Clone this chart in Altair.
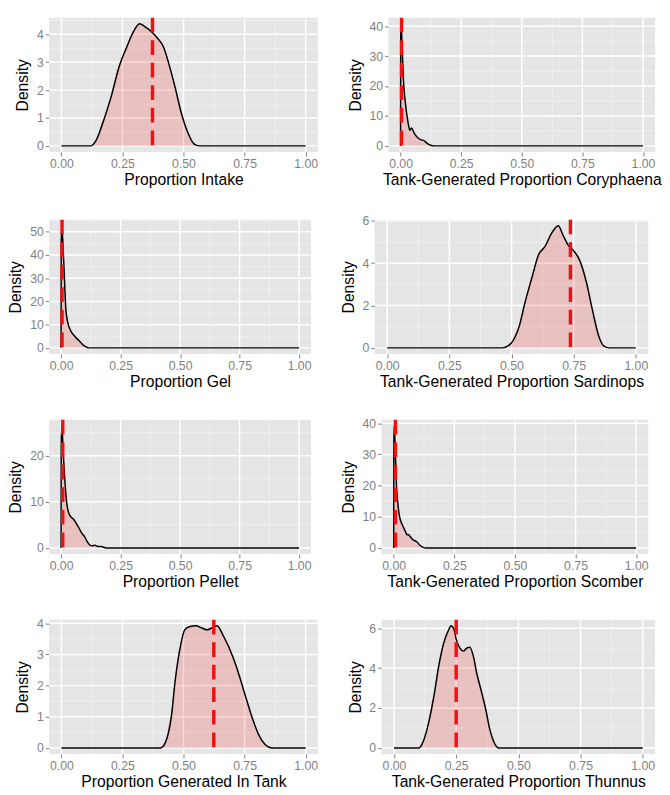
import altair as alt
import pandas as pd

FONT = "Liberation Sans"
BG = "#E5E5E5"

# ---------------- data ----------------
titles = [
    "Proportion Intake",
    "Tank-Generated Proportion Coryphaena",
    "Proportion Gel",
    "Tank-Generated Proportion Sardinops",
    "Proportion Pellet",
    "Tank-Generated Proportion Scomber",
    "Proportion Generated In Tank",
    "Tank-Generated Proportion Thunnus",
]

intake_x = [0, 0.12, 0.141, 0.174, 0.20, 0.24, 0.267, 0.293, 0.32, 0.34, 0.373, 0.392, 0.419, 0.44, 0.465, 0.491, 0.518, 0.544, 0.564, 1.0]
intake_y = [0, 0, 0.18, 0.94, 1.65, 2.94, 3.53, 4.06, 4.38, 4.29, 4.06, 3.88, 3.53, 2.94, 2.12, 1.18, 0.47, 0.06, 0, 0]

cory_x = [0, 0.0005, 0.002, 0.0066, 0.012, 0.020, 0.031, 0.038, 0.045, 0.052, 0.058, 0.071, 0.085, 0.095, 0.111, 0.124, 0.138, 1.0]
cory_y = [0, 36, 40.8, 32.9, 21.9, 14.2, 7.8, 5.2, 6.0, 5.0, 4.0, 2.7, 2.0, 1.85, 0.77, 0.2, 0, 0]

gel_x = [0, 0.0005, 0.003, 0.009, 0.015, 0.020, 0.028, 0.040, 0.061, 0.081, 0.094, 0.108, 0.115, 1.0]
gel_y = [0, 45, 52.6, 42, 27.9, 16.6, 11, 7.5, 4.6, 2.5, 1.1, 0.3, 0, 0]

sard_x = [0, 0.464, 0.497, 0.53, 0.556, 0.582, 0.609, 0.635, 0.661, 0.688, 0.707, 0.727, 0.747, 0.773, 0.80, 0.826, 0.852, 0.872, 0.892, 1.0]
sard_y = [0, 0, 0.2, 0.98, 2.22, 3.31, 4.4, 4.79, 5.41, 5.77, 5.33, 4.87, 4.63, 4.17, 3.16, 1.76, 0.51, 0.08, 0, 0]

pellet_x = [0, 0.0005, 0.003, 0.009, 0.017, 0.024, 0.036, 0.054, 0.072, 0.088, 0.098, 0.108, 0.121, 0.132, 0.142, 0.155, 0.169, 0.189, 1.0]
pellet_y = [0, 22, 26.5, 20.8, 13.8, 9.6, 7.1, 6.1, 4.6, 3.1, 2.5, 1.5, 0.6, 0.45, 0.6, 0.3, 0.3, 0, 0]

scomb_x = [0, 0.0005, 0.002, 0.0066, 0.011, 0.017, 0.024, 0.038, 0.051, 0.055, 0.060, 0.066, 0.078, 0.096, 0.108, 0.124, 0.132, 1.0]
scomb_y = [0, 33, 39.2, 31.3, 20.7, 14.3, 10.1, 7.0, 4.8, 4.2, 4.3, 3.8, 2.7, 1.9, 0.85, 0.1, 0, 0]

tank_x = [0, 0.406, 0.425, 0.451, 0.465, 0.485, 0.505, 0.524, 0.55, 0.575, 0.597, 0.615, 0.637, 0.663, 0.703, 0.729, 0.756, 0.782, 0.808, 0.835, 0.861, 1.0]
tank_y = [0, 0, 0.16, 1.05, 2.1, 3.16, 3.79, 3.89, 3.92, 3.85, 3.79, 3.85, 3.92, 3.6, 2.9, 2.3, 1.6, 0.95, 0.42, 0.1, 0, 0]

thun_x = [0, 0.101, 0.115, 0.134, 0.161, 0.18, 0.20, 0.22, 0.229, 0.241, 0.25, 0.265, 0.279, 0.292, 0.305, 0.319, 0.332, 0.352, 0.371, 0.384, 0.398, 0.411, 0.42, 1.0]
thun_y = [0, 0, 0.25, 0.99, 2.63, 4.11, 5.26, 5.92, 6.12, 5.95, 5.45, 5.0, 4.85, 5.0, 5.05, 4.6, 3.78, 2.8, 1.81, 0.99, 0.41, 0.08, 0, 0]

curves = [
    (intake_x, intake_y), (cory_x, cory_y),
    (gel_x, gel_y), (sard_x, sard_y),
    (pellet_x, pellet_y), (scomb_x, scomb_y),
    (tank_x, tank_y), (thun_x, thun_y),
]

means = [0.373, 0.004, 0.004, 0.737, 0.007, 0.007, 0.624, 0.25]

y_ticks = [
    [0, 1, 2, 3, 4], [0, 10, 20, 30, 40],
    [0, 10, 20, 30, 40, 50], [0, 2, 4, 6],
    [0, 10, 20], [0, 10, 20, 30, 40],
    [0, 1, 2, 3, 4], [0, 2, 4, 6],
]
x_ticks = [0, 0.25, 0.5, 0.75, 1.0]
x_minor = [0.125, 0.375, 0.625, 0.875]

# ---------------- layout ----------------
widths = [274, 272, 267, 279, 267, 272, 274, 279]
H = 137


def panel(i):
    xs, ys = curves[i]
    ymax = max(ys)
    ydom = [-0.05 * ymax, 1.05 * ymax]
    ticks = y_ticks[i]
    step = ticks[1] - ticks[0]
    yminor = [t + step / 2 for t in [ticks[0] - step] + ticks]
    yminor = [v for v in yminor if ydom[0] <= v <= ydom[1]]

    xsc = alt.Scale(domain=[-0.05, 1.05], nice=False, zero=False)
    ysc = alt.Scale(domain=ydom, nice=False, zero=False)
    xaxis = alt.Axis(values=x_ticks, format=".2f", title=titles[i], grid=False)
    yaxis = alt.Axis(values=ticks, format="d", title="Density", grid=False)

    def X(f):
        return alt.X(f, type="quantitative", scale=xsc, axis=xaxis)

    def Y(f):
        return alt.Y(f, type="quantitative", scale=ysc, axis=yaxis)

    df = pd.DataFrame({"x": xs, "y": ys, "i": list(range(len(xs)))})
    gx_minor = pd.DataFrame({"x": x_minor})
    gy_minor = pd.DataFrame({"y": yminor})
    gx_major = pd.DataFrame({"x": x_ticks})
    gy_major = pd.DataFrame({"y": ticks})
    mdf = pd.DataFrame({"x": [means[i]]})

    minor_x = alt.Chart(gx_minor).mark_rule(color="#F2F2F2", strokeWidth=0.8).encode(x=X("x"))
    minor_y = alt.Chart(gy_minor).mark_rule(color="#F2F2F2", strokeWidth=0.8).encode(y=Y("y"))
    major_x = alt.Chart(gx_major).mark_rule(color="white", strokeWidth=1.5).encode(x=X("x"))
    major_y = alt.Chart(gy_major).mark_rule(color="white", strokeWidth=1.5).encode(y=Y("y"))

    area = alt.Chart(df).mark_area(color="red", opacity=0.16, interpolate="monotone").encode(
        x=X("x"), y=Y("y"), order="i:Q")
    line = alt.Chart(df).mark_line(color="black", strokeWidth=1.5, interpolate="monotone").encode(
        x=X("x"), y=Y("y"), order="i:Q")
    vline = alt.Chart(mdf).mark_rule(color="#EE1111", strokeWidth=3.5, strokeDash=[15, 8]).encode(
        x=X("x"))

    return alt.layer(minor_x, minor_y, major_x, major_y, area, line, vline).properties(
        width=widths[i], height=H)


rows = [alt.hconcat(panel(2 * r), panel(2 * r + 1), spacing=29) for r in range(4)]

chart = alt.vconcat(*rows, spacing=27).properties(
    padding=0, background="white"
).configure_view(
    fill=BG, strokeWidth=0
).configure_axis(
    labelFont=FONT, titleFont=FONT,
    labelFontSize=12.5, titleFontSize=16,
    labelColor="#7F7F7F", titleColor="black",
    titleFontWeight="normal",
    tickColor="#7F7F7F", tickSize=4, tickWidth=1,
    domain=False, labelPadding=2,
).configure_axisX(
    titlePadding=2
).configure_axisY(
    titlePadding=6
)

chart.save("out.html", embed_options={"renderer": "svg", "actions": False})
